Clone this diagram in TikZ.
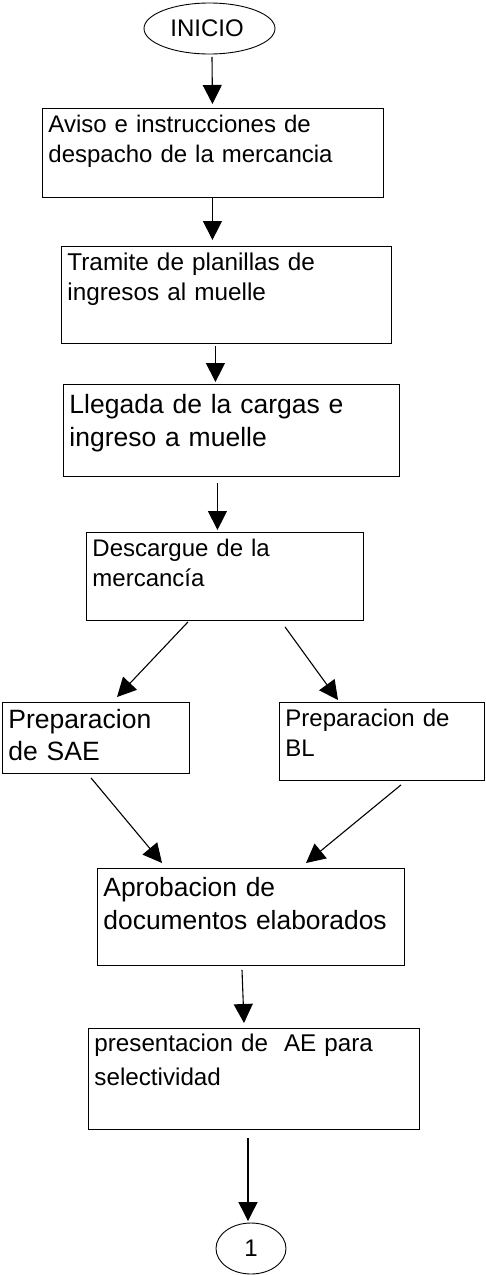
\documentclass[tikz,border=0pt]{standalone}
\usepackage{fontspec}
\setmainfont{Liberation Sans}
\usetikzlibrary{shapes.geometric,arrows.meta}
\begin{document}
\begin{tikzpicture}[x=1pt,y=-1pt,
  stepbox/.style={draw,line width=0.9pt,rectangle,anchor=north west,inner xsep=6pt,inner ysep=0pt,align=left},
  termin/.style={draw,line width=0.9pt,ellipse,inner sep=0pt,minimum height=51pt},
  arr/.style={line width=1.1pt,-{Triangle[width=19pt,length=19pt]}}]
\useasboundingbox (0,0) rectangle (485,1275);
\node[termin,minimum width=131pt,font=\fontsize{24}{29}\selectfont] (inicio) at (209.5,28.5) {\hspace*{-5pt}INICIO};
\node[stepbox,text width=329pt,text height=24pt,text depth=65pt,font=\fontsize{24}{30}\selectfont] (box1) at (42,108) {Aviso e instrucciones de\\despacho de la mercancia};
\node[stepbox,text width=318pt,text height=24pt,text depth=73pt,font=\fontsize{24.3}{30}\selectfont] (box2) at (61,246) {Tramite de planillas de\\ingresos al muelle};
\node[stepbox,text width=324pt,text height=29pt,text depth=63pt,font=\fontsize{26.5}{33}\selectfont] (box3) at (63,384) {Llegada de la cargas e\\ingreso a muelle};
\node[stepbox,text width=265pt,text height=24pt,text depth=64pt,font=\fontsize{24}{30}\selectfont] (box4) at (86,532) {Descargue de la\\mercancía};
\node[stepbox,text width=175pt,text height=26pt,text depth=45pt,font=\fontsize{26.5}{32}\selectfont] (sae) at (2,702) {Preparacion\\de SAE};
\node[stepbox,text width=193pt,text height=24pt,text depth=54pt,font=\fontsize{24}{30}\selectfont] (bl) at (279,702) {Preparacion de\\BL};
\node[stepbox,text width=295pt,text height=28pt,text depth=69pt,font=\fontsize{26.4}{33}\selectfont] (aprob) at (97,868) {Aprobacion de\\documentos elaborados};
\node[stepbox,text width=319pt,text height=23pt,text depth=78pt,font=\fontsize{24.2}{34}\selectfont] (pres) at (88,1028) {presentacion de~ AE para\\selectividad};
\node[termin,minimum width=70pt,font=\fontsize{24}{29}\selectfont] (uno) at (251,1248.5) {1};
\draw[arr] ([xshift=2.5pt,yshift=-2.5pt]inicio.south) -- ([xshift=-0.5pt,yshift=4pt]box1.north);
\draw[arr] ([xshift=-0.5pt,yshift=0pt]box1.south) -- ([xshift=-14pt,yshift=6pt]box2.north);
\draw[arr] ([xshift=-11pt,yshift=-2pt]box2.south) -- ([xshift=-16pt,yshift=2pt]box3.north);
\draw[arr] ([xshift=-14pt,yshift=-6pt]box3.south) -- ([xshift=-7.5pt,yshift=2pt]box4.north);
\draw[arr] ([xshift=102pt,yshift=-1pt]box4.south west) -- ([xshift=115pt,yshift=5pt]sae.north west);
\draw[arr] ([xshift=199pt,yshift=-6pt]box4.south west) -- ([xshift=59pt,yshift=2pt]bl.north west);
\draw[arr] ([xshift=89pt,yshift=-4pt]sae.south west) -- ([xshift=65pt,yshift=5pt]aprob.north west);
\draw[arr] ([xshift=122pt,yshift=-4pt]bl.south west) -- ([xshift=209pt,yshift=5pt]aprob.north west);
\draw[arr] ([xshift=145pt,yshift=-4pt]aprob.south west) -- ([xshift=156pt,yshift=5pt]pres.north west);
\draw[arr] ([xshift=160pt,yshift=-8pt]pres.south west) -- ([xshift=-3pt,yshift=1.5pt]uno.north);
\end{tikzpicture}
\end{document}
